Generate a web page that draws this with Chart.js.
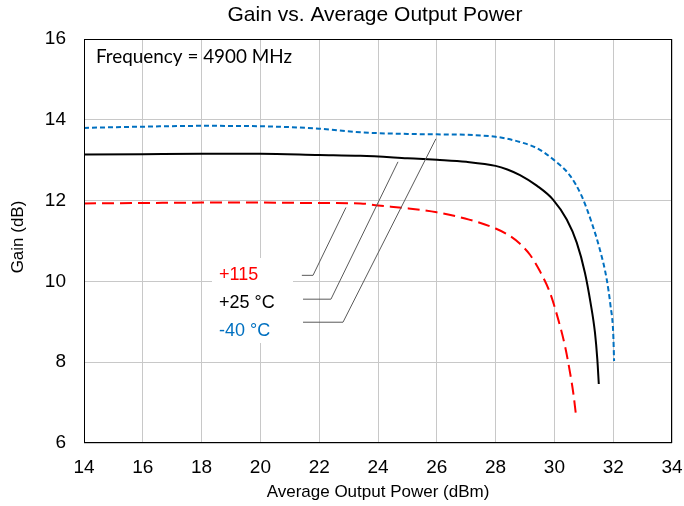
<!DOCTYPE html>
<html>
<head>
<meta charset="utf-8">
<script src="https://cdn.jsdelivr.net/npm/chart.js@4"></script>
<style>
  body { margin: 0; background: #fff; }
  canvas { display: block; }
</style>
</head>
<body>
<canvas id="chart" width="684" height="506"></canvas>
<script>
// -40 °C
const powerCold = [14, 16, 18, 20, 22, 23.4, 25, 26, 27, 28, 28.4, 28.83, 29.4, 29.96, 30.53, 30.93, 31.27, 31.55, 31.78, 31.91, 32.0, 32.03];
const gainCold = [13.80, 13.83, 13.85, 13.84, 13.78, 13.69, 13.65, 13.64, 13.63, 13.58, 13.53, 13.45, 13.30, 13.02, 12.62, 12.11, 11.45, 10.78, 10.05, 9.39, 8.73, 8.03];
// +25 °C
const powerRoom = [14, 16, 18, 20, 22, 23.4, 25, 26, 27, 28, 28.4, 28.83, 29.4, 29.96, 30.42, 30.76, 31.04, 31.23, 31.38, 31.46, 31.51];
const gainRoom = [13.14, 13.15, 13.16, 13.16, 13.13, 13.11, 13.05, 13.01, 12.96, 12.86, 12.77, 12.63, 12.37, 12.02, 11.53, 10.96, 10.21, 9.47, 8.73, 8.07, 7.46];
// +115
const powerHot = [14, 16, 18, 20, 22, 23.4, 24, 25, 26, 27.1, 28, 28.5, 28.83, 29.17, 29.51, 29.85, 30.13, 30.36, 30.53, 30.64, 30.73];
const gainHot = [11.93, 11.94, 11.95, 11.95, 11.94, 11.93, 11.88, 11.81, 11.71, 11.53, 11.31, 11.12, 10.93, 10.66, 10.25, 9.72, 9.06, 8.40, 7.75, 7.25, 6.72];

// leader lines from the labels to the curves
const leaderHotX = [21.41, 21.79, 22.91];
const leaderHotY = [10.15, 10.15, 11.83];
const leaderRoomX = [21.45, 22.40, 24.68];
const leaderRoomY = [9.56, 9.56, 12.96];
const leaderColdX = [21.45, 22.81, 25.97];
const leaderColdY = [8.99, 8.99, 13.53];

const xTicks = [14, 16, 18, 20, 22, 24, 26, 28, 30, 32, 34];
const yTicks = [6, 8, 10, 12, 14, 16];

const labels = [
  { text: "+115", color: "#ff0000" },
  { text: "+25 °C", color: "#000000" },
  { text: "-40 °C", color: "#0070c0" }
];

const pts = (xs, ys) => xs.map((x, i) => ({ x: x, y: ys[i] }));

const curve = (data, color, dash) => ({
  data: data,
  borderColor: color,
  borderWidth: 2,
  borderDash: dash,
  pointRadius: 0,
  fill: false,
  cubicInterpolationMode: "monotone"
});

const leader = (data) => ({
  data: data,
  borderColor: "#595959",
  borderWidth: 1,
  pointRadius: 0,
  fill: false,
  tension: 0
});

const ARIAL = "'Liberation Sans', Arial, sans-serif";

const textPlugin = {
  id: "texts",
  beforeDatasetsDraw(chart) {
    const ctx = chart.ctx;
    // white box behind the labels
    ctx.save();
    ctx.fillStyle = "#ffffff";
    ctx.fillRect(212, 258, 81, 85);
    ctx.restore();
  },
  afterDatasetsDraw(chart) {
    const ctx = chart.ctx;
    const area = chart.chartArea;
    ctx.save();
    ctx.textBaseline = "middle";
    ctx.fillStyle = "#000";
    ctx.font = "21px " + ARIAL;
    ctx.textAlign = "center";
    ctx.fillText("Gain vs. Average Output Power", 375, 15);

    // Calibri-like note, squeezed to the reference width
    ctx.textAlign = "left";
    ctx.font = "20px Lato, 'Open Sans', sans-serif";
    const note = "Frequency = 4900 MHz";
    const w = ctx.measureText(note).width;
    ctx.save();
    ctx.translate(96, 57);
    ctx.scale(196 / w, 1);
    ctx.fillText(note, 0, 0);
    ctx.restore();

    ctx.font = "18px " + ARIAL;
    const ys = [275, 303, 331];
    labels.forEach((l, i) => {
      ctx.fillStyle = l.color;
      ctx.fillText(l.text, 219, ys[i]);
    });

    ctx.fillStyle = "#000";
    ctx.font = "17px " + ARIAL;
    ctx.translate(18, 237);
    ctx.rotate(-Math.PI / 2);
    ctx.textAlign = "center";
    ctx.fillText("Gain (dB)", 0, 0);
    ctx.restore();

    // plot border
    ctx.save();
    ctx.strokeStyle = "#000";
    ctx.lineWidth = 1;
    ctx.strokeRect(area.left + 0.5, area.top + 0.5, area.right - area.left - 1, area.bottom - area.top - 1);
    ctx.restore();
  }
};

new Chart(document.getElementById("chart"), {
  type: "line",
  data: {
    datasets: [
      leader(pts(leaderHotX, leaderHotY)),
      leader(pts(leaderRoomX, leaderRoomY)),
      leader(pts(leaderColdX, leaderColdY)),
      curve(pts(powerCold, gainCold), "#0070c0", [5, 3]),
      curve(pts(powerRoom, gainRoom), "#000000", []),
      curve(pts(powerHot, gainHot), "#ff0000", [12, 6])
    ]
  },
  options: {
    responsive: false,
    animation: false,
    layout: { padding: { top: 39, right: 12, left: 0, bottom: 0 } },
    plugins: {
      legend: { display: false },
      tooltip: { enabled: false }
    },
    scales: {
      x: {
        type: "linear",
        min: 14,
        max: 34,
        afterBuildTicks: (s) => { s.ticks = xTicks.map(v => ({ value: v })); },
        afterFit: (s) => { s.height = 63; s.paddingLeft = 0; s.paddingRight = 0; },
        grid: { color: "#c8c8c8", drawTicks: false },
        border: { display: false },
        ticks: {
          padding: 13,
          color: "#000",
          maxRotation: 0,
          font: { family: ARIAL, size: 19 }
        },
        title: {
          display: true,
          text: "Average Output Power (dBm)",
          color: "#000",
          padding: { top: 0, bottom: 3 },
          font: { family: ARIAL, size: 17 }
        }
      },
      y: {
        type: "linear",
        min: 6,
        max: 16,
        afterBuildTicks: (s) => { s.ticks = yTicks.map(v => ({ value: v })); },
        afterFit: (s) => { s.width = 84; s.paddingTop = 0; s.paddingBottom = 0; },
        grid: { color: "#c8c8c8", drawTicks: false },
        border: { display: false },
        ticks: {
          padding: 18,
          color: "#000",
          font: { family: ARIAL, size: 19 }
        }
      }
    }
  },
  plugins: [textPlugin]
});
</script>
</body>
</html>
